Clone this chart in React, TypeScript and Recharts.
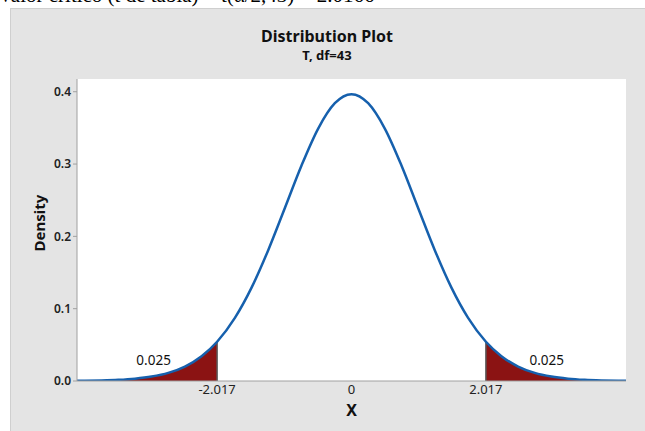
import {
  ComposedChart,
  Line,
  Area,
  XAxis,
  YAxis,
  CartesianGrid,
  ReferenceLine,
  ReferenceDot,
} from "recharts";

// t distribution, df = 43
const X_VALUES = [
  -4.12, -4, -3.75, -3.5, -3.25, -3, -2.75, -2.5, -2.25, -2.017, -1.75, -1.5, -1.25, -1, -0.75, -0.5, -0.25, 0,
  0.25, 0.5, 0.75, 1, 1.25, 1.5, 1.75, 2.017, 2.25, 2.5, 2.75, 3, 3.25, 3.5, 3.75, 4, 4.12,
];
const DENSITY = [
  0.00026, 0.00038, 0.00079, 0.0016, 0.0032, 0.0061, 0.0112, 0.02, 0.0343, 0.0543, 0.0873, 0.1291, 0.1809, 0.2392,
  0.298, 0.3491, 0.3841, 0.3966, 0.3841, 0.3491, 0.298, 0.2392, 0.1809, 0.1291, 0.0873, 0.0543, 0.0343, 0.02,
  0.0112, 0.0061, 0.0032, 0.0016, 0.00079, 0.00038, 0.00026,
];
const CRIT = 2.017;
const CRIT_DENSITY = 0.0543;
const X_TICKS = [-2.017, 0, 2.017];
const X_TICK_LABELS = ["-2.017", "0", "2.017"];
const Y_TICKS = [0, 0.1, 0.2, 0.3, 0.4];
const TAIL_LABEL = "0.025";

const X_DOMAIN = [-4.12, 4.12];
const Y_DOMAIN = [0, 0.4176];

const data = X_VALUES.map((x, i) => ({
  x,
  density: DENSITY[i],
  tail: Math.abs(x) >= CRIT ? DENSITY[i] : null,
}));

const FONT = "'Noto Sans', 'Open Sans', sans-serif";
const AXIS_GRAY = "#a0a0a0";

export default function App() {
  return (
    <div style={{ position: "absolute", left: 0, top: 0, width: 645, height: 431, overflow: "hidden", background: "#fff" }}>
      <div
        style={{
          position: "absolute",
          left: -2,
          top: -17,
          fontFamily: "'Liberation Serif', 'Times New Roman', serif",
          fontSize: 21,
          color: "#000",
          whiteSpace: "nowrap",
        }}
      >
        Valor crítico (t de tabla) = t(α/2,43) = 2.0166
      </div>
      <div
        style={{
          position: "absolute",
          left: 10,
          top: 8,
          width: 640,
          height: 430,
          background: "#e4e4e4",
          borderTop: "1px solid #cfcfcf",
          borderLeft: "1px solid #cfcfcf",
        }}
      />
      <div style={{ position: "absolute", left: 0, top: 0 }}>
        <ComposedChart
          width={645}
          height={431}
          data={data}
          margin={{ top: 79, right: 19, bottom: 12, left: 37 }}
          style={{ fontFamily: FONT }}
        >
          <CartesianGrid horizontal={false} vertical={false} fill="#fff" fillOpacity={1} />
          <XAxis
            dataKey="x"
            type="number"
            domain={X_DOMAIN}
            ticks={X_TICKS}
            tickFormatter={(v: number) => X_TICK_LABELS[X_TICKS.indexOf(v)] ?? String(v)}
            axisLine={{ stroke: AXIS_GRAY }}
            tickLine={false}
            tickSize={2}
            tick={{ fill: "#222", fontSize: 13 }}
            height={38}
            allowDataOverflow
            label={{ value: "X", position: "insideBottom", offset: 3, fill: "#111", fontSize: 16, fontWeight: 700 }}
          />
          <XAxis
            xAxisId="top"
            orientation="top"
            type="number"
            domain={X_DOMAIN}
            tick={false}
            tickLine={false}
            height={0}
            axisLine={{ stroke: AXIS_GRAY }}
          />
          <YAxis
            type="number"
            domain={Y_DOMAIN}
            ticks={Y_TICKS}
            tickFormatter={(v: number) => v.toFixed(1)}
            axisLine={{ stroke: AXIS_GRAY }}
            tickLine={{ stroke: AXIS_GRAY }}
            tickSize={4}
            tick={{ fill: "#222", fontSize: 12, fontWeight: 600 }}
            width={40}
            allowDataOverflow
          />
          <YAxis
            yAxisId="right"
            orientation="right"
            type="number"
            domain={Y_DOMAIN}
            tick={false}
            tickLine={false}
            width={0}
            axisLine={{ stroke: AXIS_GRAY }}
          />
          <Area
            dataKey="tail"
            type="monotone"
            fill="#8b1313"
            fillOpacity={1}
            stroke="none"
            baseValue={0}
            isAnimationActive={false}
            activeDot={false}
          />
          <ReferenceLine
            segment={[
              { x: -CRIT, y: 0 },
              { x: -CRIT, y: CRIT_DENSITY },
            ]}
            stroke="#5a5a5a"
            strokeWidth={1.5}
          />
          <ReferenceLine
            segment={[
              { x: CRIT, y: 0 },
              { x: CRIT, y: CRIT_DENSITY },
            ]}
            stroke="#5a5a5a"
            strokeWidth={1.5}
          />
          <Line
            dataKey="density"
            type="monotone"
            stroke="#1660ad"
            strokeWidth={2.5}
            dot={false}
            activeDot={false}
            isAnimationActive={false}
          />
          <ReferenceDot
            x={-2.97}
            y={0.029}
            r={0}
            label={{ value: TAIL_LABEL, position: "center", fill: "#111", fontSize: 13.5 }}
          />
          <ReferenceDot
            x={2.93}
            y={0.029}
            r={0}
            label={{ value: TAIL_LABEL, position: "center", fill: "#111", fontSize: 13.5 }}
          />
          <text x={327} y={42} textAnchor="middle" fontSize={16} fontWeight={700} fill="#111" fontFamily={FONT}>
            Distribution Plot
          </text>
          <text x={327} y={60} textAnchor="middle" fontSize={13} fontWeight={700} fill="#111" fontFamily={FONT}>
            T, df=43
          </text>
          <text
            x={45}
            y={223}
            textAnchor="middle"
            fontSize={15}
            fontWeight={700}
            fill="#111"
            fontFamily={FONT}
            transform="rotate(-90 45 223)"
          >
            Density
          </text>
        </ComposedChart>
      </div>
    </div>
  );
}
